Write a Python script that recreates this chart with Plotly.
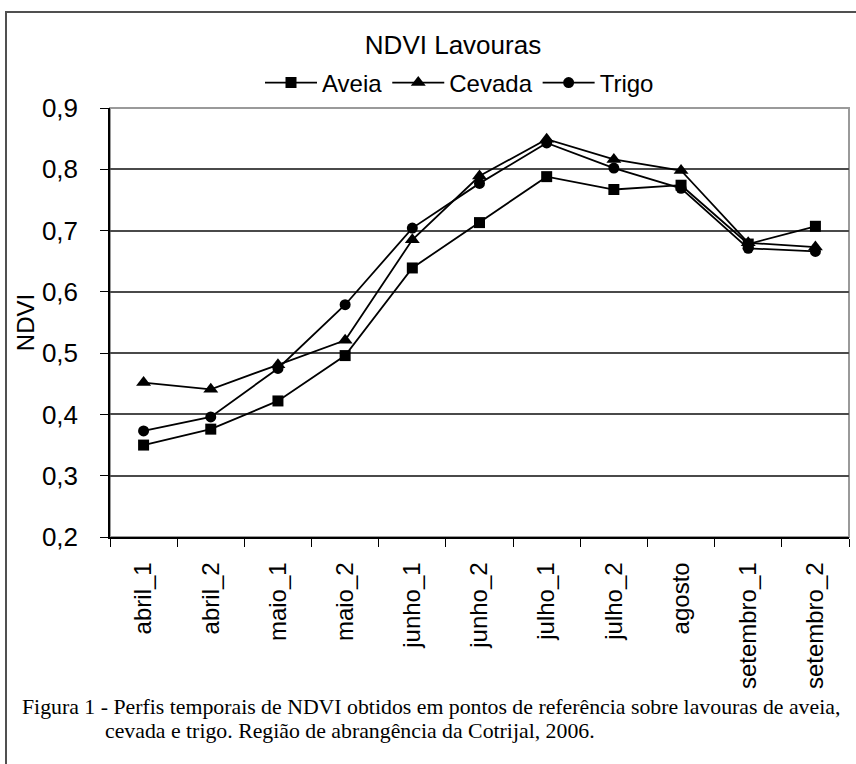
import plotly.graph_objects as go

categorias = ["abril_1", "abril_2", "maio_1", "maio_2", "junho_1", "junho_2",
              "julho_1", "julho_2", "agosto", "setembro_1", "setembro_2"]
aveia = [0.350, 0.376, 0.422, 0.496, 0.639, 0.713, 0.788, 0.767, 0.774, 0.678, 0.707]
cevada = [0.452, 0.441, 0.481, 0.521, 0.685, 0.789, 0.849, 0.816, 0.798, 0.680, 0.673]
trigo = [0.373, 0.396, 0.475, 0.579, 0.704, 0.777, 0.843, 0.802, 0.769, 0.671, 0.666]
y_ticks = [0.2, 0.3, 0.4, 0.5, 0.6, 0.7, 0.8, 0.9]

titulo = "NDVI Lavouras"
legenda_l1 = "Figura 1 - Perfis temporais de NDVI obtidos em pontos de referência sobre lavouras de aveia,"
legenda_l2 = "cevada e trigo. Região de abrangência da Cotrijal, 2006."

W, H = 856, 764
L, R, T, B = 110, 849, 108, 537
pw, ph = R - L, B - T

def px(x):
    return (x - L) / pw

def py(y):
    return (B - y) / ph

fig = go.Figure()
series = [("Aveia", aveia, "square", 11), ("Cevada", cevada, "triangle-up", 13), ("Trigo", trigo, "circle", 11)]
for nome, vals, sym, sz in series:
    fig.add_trace(go.Scatter(
        x=categorias, y=vals, name=nome, mode="lines+markers",
        line=dict(color="black", width=1.8),
        marker=dict(symbol=sym, size=sz, color="black"),
    ))

sans = "Liberation Sans, Arial, sans-serif"
serif = "Liberation Serif, Times New Roman, serif"

fig.update_layout(
    width=W, height=H,
    margin=dict(l=L, r=W - R, t=T, b=H - B, pad=0),
    paper_bgcolor="white", plot_bgcolor="white",
    separators=",.",
    font=dict(family=sans, color="black", size=22),
    title=dict(text=titulo, x=453 / W, xanchor="center", y=1 - 45 / H, yanchor="middle",
               xref="container", yref="container", font=dict(size=26, family=sans, color="black")),
    showlegend=True,
    legend=dict(orientation="h", x=px(260), xanchor="left", y=py(83), yanchor="middle",
                font=dict(size=24, family=sans, color="black"), bgcolor="rgba(0,0,0,0)",
                itemwidth=52, tracegroupgap=0),
    xaxis=dict(type="category", showline=True, linecolor="black", linewidth=1.5,
               ticks="outside", ticklen=8, tickcolor="black", tickwidth=1.3,
               tickson="boundaries", tickangle=-90, ticklabelstandoff=14,
               tickfont=dict(size=24, family=sans, color="black"),
               showgrid=False, zeroline=False, range=[-0.5, 10.5]),
    yaxis=dict(range=[0.2, 0.9], tickvals=y_ticks, tickformat=".1f",
               showline=True, linecolor="black", linewidth=1.5,
               ticks="outside", ticklen=8, tickcolor="black", tickwidth=1.3,
               ticklabelstandoff=17,
               tickfont=dict(size=26, family=sans, color="black"),
               showgrid=True, gridcolor="#4a4a4a", gridwidth=1.5, zeroline=False,
               title=dict(text="NDVI", standoff=0, font=dict(size=24, family=sans, color="black"))),
    shapes=[
        dict(type="rect", xref="paper", yref="paper", x0=0, x1=1, y0=0, y1=1,
             line=dict(color="#9a9a9a", width=2), layer="between"),
        dict(type="rect", xref="paper", yref="paper", x0=px(6), x1=px(870), y0=py(12), y1=py(800),
             line=dict(color="#505050", width=2), layer="above"),
    ],
    annotations=[
        dict(text=legenda_l1, xref="paper", yref="paper", x=px(20), y=py(707), xanchor="left",
             yanchor="middle", showarrow=False, font=dict(size=21.8, family=serif, color="black")),
        dict(text=legenda_l2, xref="paper", yref="paper", x=px(103), y=py(731), xanchor="left",
             yanchor="middle", showarrow=False, font=dict(size=21.8, family=serif, color="black")),
    ],
)

fig.write_html("out.html", config={"displayModeBar": False},
               post_script="document.body.style.margin='0';document.body.style.overflow='hidden';")
